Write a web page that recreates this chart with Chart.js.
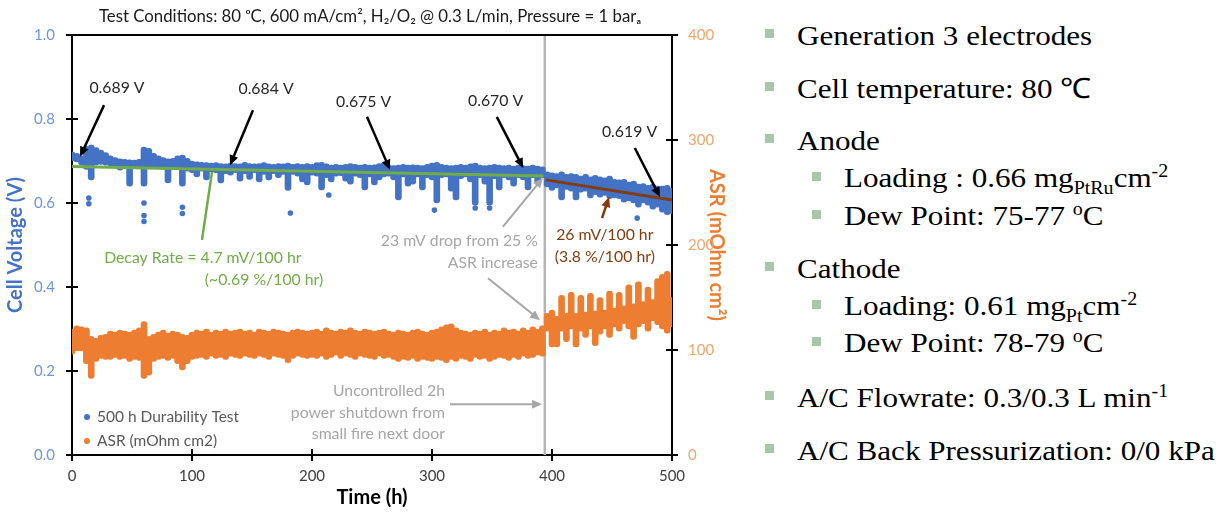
<!DOCTYPE html>
<html>
<head>
<meta charset="utf-8">
<title>500 h durability test</title>
<script src="https://cdn.jsdelivr.net/npm/chart.js@4.4.1/dist/chart.umd.min.js"></script>
<style>
  body { margin: 0; background: #fff; width: 1219px; height: 512px; overflow: hidden; position: relative; }
  #chartBox { position: absolute; left: 0; top: 0; width: 740px; height: 512px; }
  .sq { position: absolute; width: 9px; height: 9px; background: #a8c6a9; }
  .txt { position: absolute; white-space: nowrap; font-family: "Liberation Serif", "Times New Roman", serif;
         font-size: 28px; line-height: 28px; color: #000; transform: scaleX(1.11); transform-origin: left center; }
  .sub { position: relative; top: 7px; font-size: 18px; }
  .sup { position: relative; top: -10px; font-size: 18px; }
</style>
</head>
<body>
<div id="chartBox"><canvas id="durabilityChart"></canvas></div>

<span class="sq" style="left:765px;top:29px"></span>
<div class="txt" style="left:797px;top:21.5px">Generation 3 electrodes</div>
<span class="sq" style="left:765px;top:82px"></span>
<div class="txt" style="left:797px;top:74.5px">Cell temperature: 80 ℃</div>
<span class="sq" style="left:765px;top:134px"></span>
<div class="txt" style="left:797px;top:126.5px">Anode</div>
<span class="sq" style="left:812px;top:172px"></span>
<div class="txt" style="left:844px;top:163.5px">Loading : 0.66 mg<span class="sub">PtRu</span>cm<span class="sup">-2</span></div>
<span class="sq" style="left:812px;top:210px"></span>
<div class="txt" style="left:844px;top:201.5px">Dew Point: 75-77 <span class="sup">o</span>C</div>
<span class="sq" style="left:765px;top:262px"></span>
<div class="txt" style="left:797px;top:254.5px">Cathode</div>
<span class="sq" style="left:812px;top:300px"></span>
<div class="txt" style="left:844px;top:291.5px">Loading: 0.61 mg<span class="sub">Pt</span>cm<span class="sup">-2</span></div>
<span class="sq" style="left:812px;top:337px"></span>
<div class="txt" style="left:844px;top:328.5px">Dew Point: 78-79 <span class="sup">o</span>C</div>
<span class="sq" style="left:765px;top:391px"></span>
<div class="txt" style="left:797px;top:383.5px">A/C Flowrate: 0.3/0.3 L min<span class="sup">-1</span></div>
<span class="sq" style="left:765px;top:444px"></span>
<div class="txt" style="left:797px;top:436.5px">A/C Back Pressurization: 0/0 kPa</div>

<script>
// time bins (h), 2 h power shutdown near 394 h
const hours = [
  0, 4, 8, 12, 16, 20, 24, 28, 32, 36, 40, 44, 48, 52, 56, 60, 64, 68, 72, 76, 80, 84, 88, 92, 96,
  100, 104, 108, 112, 116, 120, 124, 128, 132, 136, 140, 144, 148, 152, 156, 160, 164, 168, 172, 176, 180, 184, 188, 192, 196,
  200, 204, 208, 212, 216, 220, 224, 228, 232, 236, 240, 244, 248, 252, 256, 260, 264, 268, 272, 276, 280, 284, 288, 292, 296,
  300, 304, 308, 312, 316, 320, 324, 328, 332, 336, 340, 344, 348, 352, 356, 360, 364, 368, 372, 376, 380, 384, 388, 392,
  396, 400, 404, 408, 412, 416, 420, 424, 428, 432, 436, 440, 444, 448, 452, 456, 460, 464, 468, 472, 476, 480, 484, 488, 492, 496, 500
];

// cell voltage spread in each bin (V)
const voltHigh = [
  0.722, 0.718, 0.712, 0.735, 0.738, 0.732, 0.726, 0.720, 0.712, 0.708, 0.705, 0.704, 0.703, 0.702, 0.704, 0.733, 0.730, 0.718, 0.712, 0.708, 0.705, 0.706, 0.712, 0.714, 0.706,
  0.700, 0.698, 0.697, 0.696, 0.695, 0.696, 0.694, 0.693, 0.695, 0.694, 0.693, 0.697, 0.694, 0.693, 0.694, 0.696, 0.693, 0.692, 0.694, 0.693, 0.695, 0.692, 0.694, 0.692, 0.694,
  0.692, 0.696, 0.697, 0.693, 0.690, 0.692, 0.690, 0.692, 0.694, 0.692, 0.690, 0.692, 0.690, 0.691, 0.694, 0.696, 0.690, 0.689, 0.690, 0.692, 0.690, 0.691, 0.690, 0.689, 0.692,
  0.695, 0.697, 0.692, 0.690, 0.689, 0.690, 0.692, 0.690, 0.693, 0.695, 0.690, 0.689, 0.690, 0.692, 0.690, 0.689, 0.690, 0.688, 0.690, 0.689, 0.688, 0.690, 0.688, 0.686,
  0.674, 0.672, 0.670, 0.674, 0.668, 0.670, 0.668, 0.664, 0.668, 0.662, 0.666, 0.662, 0.660, 0.664, 0.656, 0.655, 0.656, 0.650, 0.652, 0.645, 0.646, 0.642, 0.645, 0.640, 0.640, 0.642, 0.635
];
const voltLow = [
  0.700, 0.698, 0.690, 0.680, 0.655, 0.690, 0.692, 0.690, 0.688, 0.686, 0.678, 0.686, 0.640, 0.684, 0.682, 0.640, 0.685, 0.684, 0.685, 0.680, 0.648, 0.683, 0.680, 0.640, 0.676,
  0.672, 0.662, 0.676, 0.655, 0.674, 0.672, 0.648, 0.670, 0.666, 0.672, 0.652, 0.670, 0.656, 0.672, 0.650, 0.668, 0.655, 0.670, 0.660, 0.668, 0.630, 0.668, 0.664, 0.650, 0.643,
  0.666, 0.664, 0.631, 0.660, 0.650, 0.664, 0.665, 0.652, 0.645, 0.664, 0.660, 0.631, 0.662, 0.643, 0.655, 0.662, 0.664, 0.655, 0.607, 0.662, 0.640, 0.645, 0.662, 0.631, 0.660,
  0.655, 0.600, 0.660, 0.662, 0.628, 0.607, 0.658, 0.662, 0.650, 0.595, 0.660, 0.645, 0.595, 0.658, 0.631, 0.660, 0.655, 0.640, 0.660, 0.655, 0.631, 0.660, 0.648, 0.660,
  0.638, 0.630, 0.636, 0.607, 0.632, 0.628, 0.607, 0.626, 0.628, 0.612, 0.620, 0.614, 0.618, 0.610, 0.612, 0.610, 0.602, 0.605, 0.600, 0.590, 0.600, 0.595, 0.585, 0.590, 0.578, 0.572, 0.575
];

// isolated low voltage readings
const outlierHours = [14, 14, 60, 60, 60, 92, 92, 182, 214, 302, 336, 348, 471];
const outlierVolts = [0.612, 0.598, 0.600, 0.570, 0.556, 0.590, 0.575, 0.576, 0.619, 0.583, 0.588, 0.588, 0.564];

// ASR spread in each bin (mOhm cm2)
const asrLow = [
  96, 99, 99, 87, 73, 89, 92, 91, 91, 93, 91, 92, 89, 91, 90, 73, 76, 89, 91, 92, 90, 92, 87, 81, 87,
  91, 92, 93, 91, 94, 92, 93, 91, 94, 93, 92, 94, 93, 92, 94, 93, 91, 94, 93, 92, 88, 92, 94, 93, 92,
  93, 92, 94, 91, 93, 95, 92, 94, 93, 91, 94, 93, 92, 91, 94, 92, 93, 91, 89, 91, 90, 92, 89, 91, 90,
  89, 91, 90, 88, 91, 89, 92, 91, 89, 93, 91, 92, 89, 91, 93, 92, 90, 93, 91, 94, 92, 93, 95, 94,
  118, 103, 103, 118, 108, 120, 103, 118, 112, 120, 104, 115, 120, 112, 122, 118, 125, 120, 110, 122, 125, 118, 128, 124, 120, 116, 122
];
const asrHigh = [
  120, 123, 122, 121, 113, 111, 114, 115, 118, 117, 119, 118, 117, 119, 121, 127, 113, 115, 117, 119, 116, 118, 117, 115, 114,
  117, 119, 118, 120, 117, 119, 118, 120, 118, 119, 120, 118, 119, 117, 120, 119, 118, 120, 119, 118, 117, 119, 120, 119, 118,
  119, 120, 118, 121, 119, 118, 120, 119, 121, 119, 118, 120, 119, 118, 119, 120, 118, 117, 119, 118, 117, 119, 120, 118, 117,
  119, 120, 122, 124, 125, 121, 119, 118, 117, 119, 118, 120, 117, 119, 118, 121, 119, 120, 118, 121, 119, 122, 120, 123,
  135, 138, 132, 152, 135, 155, 135, 152, 136, 154, 137, 150, 138, 156, 140, 155, 142, 162, 144, 165, 146, 160, 148, 168, 172, 175, 150
];

// linear fits and the shutdown marker
const greenFitHours = [0, 393];
const greenFitVolts = [0.687, 0.664];
const brownFitHours = [395, 500];
const brownFitVolts = [0.655, 0.607];
const shutdownHour = 394;

const FONT = "Lato, 'DejaVu Sans', sans-serif";

// annotations, anchored in data units (hours, volts)
const arrows = [
  { from: [26.7, 0.833], to: [6.7, 0.710], color: '#000', width: 2.5, head: true },
  { from: [150.8, 0.821], to: [131.7, 0.690], color: '#000', width: 2.5, head: true },
  { from: [245.8, 0.805], to: [265, 0.679], color: '#000', width: 2.5, head: true },
  { from: [354, 0.805], to: [376, 0.683], color: '#000', width: 2.5, head: true },
  { from: [469, 0.731], to: [490, 0.614], color: '#000', width: 2.5, head: true },
  { from: [116.7, 0.674], to: [108.3, 0.512], color: '#70ad47', width: 2.5, head: false },
  { from: [359, 0.543], to: [392.5, 0.660], color: '#a6a6a6', width: 2, head: true },
  { from: [346.7, 0.421], to: [390, 0.321], color: '#a6a6a6', width: 2, head: true },
  { from: [315, 0.121], to: [391.7, 0.121], color: '#a6a6a6', width: 2, head: true },
  { from: [441.7, 0.564], to: [447.5, 0.614], color: '#843c0c', width: 2.5, head: true }
];
const labels = [
  { text: '0.689 V', at: [37.5, 0.874], color: '#262626', align: 'center' },
  { text: '0.684 V', at: [161.7, 0.871], color: '#262626', align: 'center' },
  { text: '0.675 V', at: [243, 0.840], color: '#262626', align: 'center' },
  { text: '0.670 V', at: [353, 0.843], color: '#262626', align: 'center' },
  { text: '0.619 V', at: [464.6, 0.769], color: '#262626', align: 'center' },
  { text: 'Decay Rate = 4.7 mV/100 hr', at: [109, 0.469], color: '#70ad47', align: 'center' },
  { text: '(~0.69 %/100 hr)', at: [160, 0.417], color: '#70ad47', align: 'center' },
  { text: '23 mV drop from 25 %', at: [388.3, 0.510], color: '#a6a6a6', align: 'right' },
  { text: 'ASR increase', at: [388.3, 0.457], color: '#a6a6a6', align: 'right' },
  { text: 'Uncontrolled 2h', at: [310.8, 0.152], color: '#a6a6a6', align: 'right' },
  { text: 'power shutdown from', at: [310.8, 0.100], color: '#a6a6a6', align: 'right' },
  { text: 'small fire next door', at: [310.8, 0.050], color: '#a6a6a6', align: 'right' },
  { text: '26 mV/100 hr', at: [444, 0.524], color: '#843c0c', align: 'center' },
  { text: '(3.8 %/100 hr)', at: [444, 0.471], color: '#843c0c', align: 'center' }
];

function drawArrow(ctx, x1, y1, x2, y2, color, width, head) {
  const ang = Math.atan2(y2 - y1, x2 - x1);
  const len = head ? 10 : 0;
  ctx.strokeStyle = color;
  ctx.fillStyle = color;
  ctx.lineWidth = width;
  ctx.beginPath();
  ctx.moveTo(x1, y1);
  ctx.lineTo(x2 - len * 0.7 * Math.cos(ang), y2 - len * 0.7 * Math.sin(ang));
  ctx.stroke();
  if (head) {
    const bx = x2 - len * Math.cos(ang), by = y2 - len * Math.sin(ang);
    ctx.beginPath();
    ctx.moveTo(x2, y2);
    ctx.lineTo(bx + 4.5 * Math.sin(ang), by - 4.5 * Math.cos(ang));
    ctx.lineTo(bx - 4.5 * Math.sin(ang), by + 4.5 * Math.cos(ang));
    ctx.closePath();
    ctx.fill();
  }
}

const overlay = {
  id: 'overlay',
  afterDatasetsDraw(chart) {
    const { ctx, chartArea: a, scales } = chart;
    const px = h => scales.x.getPixelForValue(h);
    const py = v => scales.y.getPixelForValue(v);
    ctx.save();

    // top frame and inner half of the cross ticks
    ctx.strokeStyle = '#000';
    ctx.lineWidth = 2;
    ctx.beginPath();
    ctx.moveTo(a.left - 1, a.top);
    ctx.lineTo(a.right + 1, a.top);
    scales.x.ticks.forEach(t => { const x = px(t.value); ctx.moveTo(x, a.bottom); ctx.lineTo(x, a.bottom - 6); });
    scales.y.ticks.forEach(t => { const y = py(t.value); ctx.moveTo(a.left, y); ctx.lineTo(a.left + 6, y); });
    scales.y2.ticks.forEach(t => { const y = scales.y2.getPixelForValue(t.value); ctx.moveTo(a.right, y); ctx.lineTo(a.right - 6, y); });
    ctx.stroke();

    arrows.forEach(r => drawArrow(ctx, px(r.from[0]), py(r.from[1]), px(r.to[0]), py(r.to[1]), r.color, r.width, r.head));

    ctx.font = '15.8px ' + FONT;
    ctx.textBaseline = 'middle';
    labels.forEach(l => {
      ctx.fillStyle = l.color;
      ctx.textAlign = l.align;
      ctx.fillText(l.text, px(l.at[0]), py(l.at[1]));
    });

    // legend, bottom left inside the plot
    const legendItems = [
      { text: '500 h Durability Test', color: '#4472c4' },
      { text: 'ASR (mOhm cm2)', color: '#ed7d31' }
    ];
    ctx.font = '15.5px ' + FONT;
    ctx.textAlign = 'left';
    legendItems.forEach((it, i) => {
      const y = a.bottom - 38 + i * 24;
      ctx.fillStyle = it.color;
      ctx.beginPath();
      ctx.arc(a.left + 15, y, 3, 0, Math.PI * 2);
      ctx.fill();
      ctx.fillStyle = '#595959';
      ctx.fillText(it.text, a.left + 25, y);
    });
    ctx.restore();
  }
};

const toPoints = (xs, ys) => xs.map((x, i) => ({ x: x, y: ys[i] }));
const toRanges = (xs, lo, hi) => xs.map((x, i) => ({ x: x, y: [lo[i], hi[i]] }));

const data = {
  datasets: [
    {
      type: 'line', label: 'Decay fit', data: toPoints(greenFitHours, greenFitVolts),
      borderColor: '#70ad47', borderWidth: 3, pointRadius: 0, yAxisID: 'y', order: 0
    },
    {
      type: 'line', label: 'Late decay fit', data: toPoints(brownFitHours, brownFitVolts),
      borderColor: '#843c0c', borderWidth: 3, pointRadius: 0, yAxisID: 'y', order: 0
    },
    {
      type: 'scatter', label: '500 h Durability Test (outliers)', data: toPoints(outlierHours, outlierVolts),
      backgroundColor: '#4472c4', borderWidth: 0, pointRadius: 2.8, yAxisID: 'y', order: 1
    },
    {
      type: 'bar', label: '500 h Durability Test', data: toRanges(hours, voltLow, voltHigh),
      backgroundColor: '#4472c4', borderWidth: 0, borderRadius: 3, borderSkipped: false,
      barThickness: 6, grouped: false, yAxisID: 'y', order: 2
    },
    {
      type: 'bar', label: 'ASR (mOhm cm2)', data: toRanges(hours, asrLow, asrHigh),
      backgroundColor: '#ed7d31', borderWidth: 0, borderRadius: 3, borderSkipped: false,
      barThickness: 6, grouped: false, yAxisID: 'y2', order: 3
    },
    {
      type: 'line', label: 'Shutdown', data: toPoints([shutdownHour, shutdownHour], [0, 1]),
      borderColor: '#b4b4b4', borderWidth: 2.5, pointRadius: 0, yAxisID: 'y', order: 4
    }
  ]
};

const options = {
  responsive: true,
  maintainAspectRatio: false,
  animation: false,
  devicePixelRatio: 1,
  layout: { padding: 0 },
  plugins: {
    legend: { display: false },
    tooltip: { enabled: false },
    title: {
      display: true,
      text: 'Test Conditions: 80 ᵒC, 600 mA/cm², H₂/O₂ @ 0.3 L/min, Pressure = 1 barₐ',
      color: '#1a1a1a',
      font: { family: FONT, size: 16.8, weight: 'normal' },
      padding: { top: 7, bottom: 7.8 }
    }
  },
  scales: {
    x: {
      type: 'linear', min: 0, max: 500, offset: false,
      ticks: { stepSize: 100, color: '#404040', font: { family: FONT, size: 15 }, padding: 6, maxRotation: 0 },
      grid: { drawOnChartArea: false, color: '#000', lineWidth: 2, tickLength: 6, offset: false },
      border: { color: '#000', width: 2 },
      title: { display: true, text: 'Time (h)', color: '#000', font: { family: FONT, size: 20, weight: 'bold' }, padding: { top: 0, bottom: 2 } },
      afterFit: s => { s.height = 57; }
    },
    y: {
      type: 'linear', position: 'left', min: 0, max: 1,
      ticks: { stepSize: 0.2, color: '#6f95dc', font: { family: FONT, size: 15 }, padding: 11, callback: v => v.toFixed(1) },
      grid: { drawOnChartArea: false, color: '#000', lineWidth: 2, tickLength: 6 },
      border: { color: '#000', width: 2 },
      title: { display: true, text: 'Cell Voltage (V)', color: '#4472c4', font: { family: FONT, size: 20, weight: 'bold' }, padding: { top: 4 } },
      afterFit: s => { s.width = 72; }
    },
    y2: {
      type: 'linear', position: 'right', min: 0, max: 400,
      ticks: { stepSize: 100, color: '#f4a46e', font: { family: FONT, size: 15 }, padding: 10 },
      grid: { drawOnChartArea: false, color: '#000', lineWidth: 2, tickLength: 6 },
      border: { color: '#000', width: 2 },
      title: { display: true, text: 'ASR (mOhm cm²)', color: '#ed7d31', font: { family: FONT, size: 20, weight: 'bold' }, padding: { top: 12 } },
      afterFit: s => { s.width = 68; }
    }
  }
};

const chart = new Chart(document.getElementById('durabilityChart'), {
  type: 'bar',
  data: data,
  options: options,
  plugins: [overlay]
});
</script>
</body>
</html>
